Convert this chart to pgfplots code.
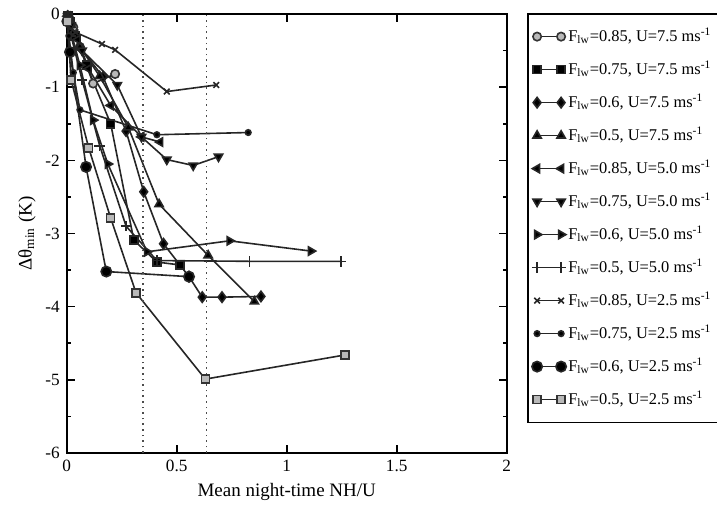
\documentclass[border=0pt]{standalone}
\usepackage{fontspec}
\setmainfont{Liberation Serif}
\usepackage{pgfplots}
\pgfplotsset{compat=1.18}
\usetikzlibrary{calc}

\begin{document}
\begin{tikzpicture}
\begin{axis}[
  name=ax, scale only axis,
  width=220pt, height=219.5pt,
  xmin=0, xmax=2, ymin=-6, ymax=0,
  xtick={0,0.5,1,1.5,2}, ytick={-6,-5,-4,-3,-2,-1,0},
  minor ytick={-5.5,-4.5,-3.5,-2.5,-1.5,-0.5},
  tick align=inside, major tick length=4pt, minor tick length=2pt,
  axis line style={line width=0.9pt},
  every tick/.style={line width=0.8pt, black},
  tick label style={font=\fontsize{8.6}{10}\selectfont},
  /pgf/number format/assume math mode=true,
  label style={font=\fontsize{9.5}{11}\selectfont},
  xlabel={Mean night-time NH/U},
  ylabel={Δθ\textsubscript{min} (K)},
  xlabel style={yshift=1pt},
  ylabel style={yshift=-2pt},
  clip=false,
  every axis plot/.append style={line width=0.8pt, black!85},
  legend style={at={(1,1)}, anchor=north west, xshift=10.2pt, yshift=0.5pt,
    draw=black, line width=0.8pt, font=\fontsize{8.2}{10}\selectfont,
    nodes={inner sep=1pt, text height=7.8pt, text depth=3pt},
    row sep=3.7pt, column sep=0pt, inner xsep=2pt, inner ysep=5pt},
  legend cell align=left,
  legend image code/.code={\draw plot coordinates {(0pt,0pt) (12pt,0pt)};},
]
% F=0.85, U=7.5
\addplot[mark=*, mark size=2.1pt, mark options={fill=gray!55, draw=black!80, solid}]
  coordinates {(0.004,-0.02)(0.012,-0.06)(0.03,-0.18)(0.06,-0.45)(0.12,-0.95)(0.22,-0.82)};
% F=0.75, U=7.5
\addplot[mark=square*, mark size=2pt, mark options={fill=black}]
  coordinates {(0.005,-0.03)(0.015,-0.1)(0.04,-0.3)(0.09,-0.7)(0.2,-1.5)(0.305,-3.09)(0.41,-3.39)(0.515,-3.43)};
% F=0.6, U=7.5
\addplot[mark=diamond*, mark size=2.6pt, mark options={fill=black}]
  coordinates {(0.005,-0.03)(0.02,-0.15)(0.06,-0.45)(0.165,-0.86)(0.27,-1.6)(0.35,-2.43)(0.44,-3.14)(0.556,-3.59)(0.616,-3.87)(0.706,-3.87)(0.883,-3.86)};
% F=0.5, U=7.5
\addplot[mark=triangle*, mark size=2.4pt, mark options={fill=black}]
  coordinates {(0.005,-0.03)(0.02,-0.15)(0.06,-0.45)(0.15,-0.85)(0.28,-1.55)(0.42,-2.6)(0.643,-3.3)(0.853,-3.93)};
% F=0.85, U=5.0
\addplot[mark=triangle*, mark size=2.4pt, mark options={fill=black, rotate=90}]
  coordinates {(0.005,-0.03)(0.02,-0.12)(0.05,-0.35)(0.1,-0.75)(0.2,-1.25)(0.34,-1.68)(0.425,-1.75)};
% F=0.75, U=5.0
\addplot[mark=triangle*, mark size=2.4pt, mark options={fill=black, rotate=180}]
  coordinates {(0.005,-0.03)(0.02,-0.15)(0.07,-0.5)(0.23,-0.97)(0.34,-1.68)(0.455,-1.99)(0.575,-2.07)(0.69,-1.95)};
% F=0.6, U=5.0
\addplot[mark=triangle*, mark size=2.4pt, mark options={fill=black, rotate=-90}]
  coordinates {(0.005,-0.05)(0.02,-0.25)(0.06,-0.7)(0.12,-1.45)(0.187,-2.05)(0.365,-3.25)(0.74,-3.1)(1.11,-3.24)};
% F=0.5, U=5.0
\addplot[mark=+, mark size=2.6pt]
  coordinates {(0.005,-0.05)(0.02,-0.3)(0.07,-0.9)(0.15,-1.8)(0.27,-2.9)(0.41,-3.37)(0.83,-3.38)(1.247,-3.38)};
% F=0.85, U=2.5
\addplot[mark=x, mark size=2pt]
  coordinates {(0.003,-0.02)(0.01,-0.08)(0.04,-0.25)(0.16,-0.41)(0.22,-0.49)(0.455,-1.06)(0.68,-0.97)};
% F=0.75, U=2.5
\addplot[mark=*, mark size=1.4pt, mark options={fill=black}]
  coordinates {(0.002,-0.05)(0.01,-0.3)(0.03,-0.8)(0.06,-1.31)(0.41,-1.65)(0.825,-1.62)};
% F=0.6, U=2.5
\addplot[mark=*, mark size=2.6pt, mark options={fill=black}]
  coordinates {(0.003,-0.1)(0.015,-0.52)(0.088,-2.09)(0.18,-3.52)(0.556,-3.59)};
% F=0.5, U=2.5
\addplot[mark=square*, mark size=2pt, mark options={fill=gray!55, draw=black!80}]
  coordinates {(0.003,-0.1)(0.02,-0.9)(0.1,-1.83)(0.2,-2.79)(0.315,-3.81)(0.63,-4.99)(1.265,-4.66)};
% dotted reference lines
\addplot[forget plot, dotted, line width=0.6pt, black!70] coordinates {(0.347,-6)(0.347,0)};
\addplot[forget plot, dotted, line width=0.6pt, black!70] coordinates {(0.637,-6)(0.637,0)};
\legend{
  {F\textsubscript{lw}=0.85, U=7.5 ms\textsuperscript{-1}},
  {F\textsubscript{lw}=0.75, U=7.5 ms\textsuperscript{-1}},
  {F\textsubscript{lw}=0.6, U=7.5 ms\textsuperscript{-1}},
  {F\textsubscript{lw}=0.5, U=7.5 ms\textsuperscript{-1}},
  {F\textsubscript{lw}=0.85, U=5.0 ms\textsuperscript{-1}},
  {F\textsubscript{lw}=0.75, U=5.0 ms\textsuperscript{-1}},
  {F\textsubscript{lw}=0.6, U=5.0 ms\textsuperscript{-1}},
  {F\textsubscript{lw}=0.5, U=5.0 ms\textsuperscript{-1}},
  {F\textsubscript{lw}=0.85, U=2.5 ms\textsuperscript{-1}},
  {F\textsubscript{lw}=0.75, U=2.5 ms\textsuperscript{-1}},
  {F\textsubscript{lw}=0.6, U=2.5 ms\textsuperscript{-1}},
  {F\textsubscript{lw}=0.5, U=2.5 ms\textsuperscript{-1}}}
\end{axis}
\pgfresetboundingbox
\path[use as bounding box] ($(ax.south west)+(-33.35pt,-28.5pt)$) rectangle ($(ax.north east)+(105.15pt,7pt)$);
\end{tikzpicture}
\end{document}
